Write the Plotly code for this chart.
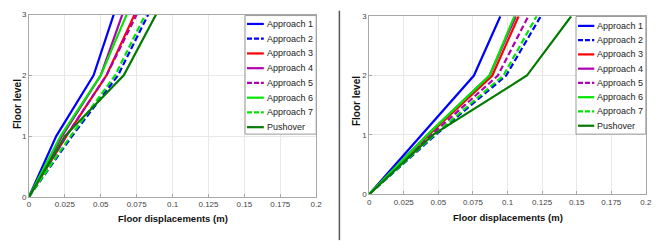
import plotly.graph_objects as go

# ---------------- data ----------------
floors = [0, 1, 2, 3]
series_names = ["Approach 1", "Approach 2", "Approach 3", "Approach 4",
                "Approach 5", "Approach 6", "Approach 7", "Pushover"]

# left panel: floor displacements (m) at floors 0..3
left_approach1 = [0, 0.019, 0.045, 0.059]
left_approach2 = [0, 0.030, 0.062, 0.083]
left_approach3 = [0, 0.026, 0.054, 0.0735]
left_approach4 = [0, 0.023, 0.050, 0.065]
left_approach5 = [0, 0.026, 0.054, 0.075]
left_approach6 = [0, 0.022, 0.050, 0.068]
left_approach7 = [0, 0.029, 0.060, 0.081]
left_pushover = [0, 0.025, 0.066, 0.0885]

# right panel
right_approach1 = [0, 0.038, 0.0757, 0.0948]
right_approach2 = [0, 0.048, 0.099, 0.124]
right_approach3 = [0, 0.043, 0.089, 0.108]
right_approach4 = [0, 0.042, 0.087, 0.106]
right_approach5 = [0, 0.045, 0.093, 0.115]
right_approach6 = [0, 0.042, 0.087, 0.105]
right_approach7 = [0, 0.047, 0.097, 0.121]
right_pushover = [0, 0.046, 0.114, 0.146]

x_tick_values = [0, 0.025, 0.05, 0.075, 0.1, 0.125, 0.15, 0.175, 0.2]
x_tick_labels = ["0", "0.025", "0.05", "0.075", "0.1", "0.125", "0.15", "0.175", "0.2"]
y_tick_values = [0, 1, 2, 3]
y_tick_labels = ["0", "1", "2", "3"]

x_title = "Floor displacements (m)"
y_title = "Floor level"

left_series = [left_approach1, left_approach2, left_approach3, left_approach4,
               left_approach5, left_approach6, left_approach7, left_pushover]
right_series = [right_approach1, right_approach2, right_approach3, right_approach4,
                right_approach5, right_approach6, right_approach7, right_pushover]

# ---------------- styles ----------------
colors = ["#0000FF", "#0000FF", "#FF0000", "#B000B0",
          "#B000B0", "#00E600", "#00E600", "#007A00"]
dashes = ["solid", "6px,3px", "solid", "solid",
          "6px,3px", "solid", "6px,3px", "solid"]
LW = 2.2
FONT = "Liberation Sans, Arial, sans-serif"

W, H = 665, 249


def px(x):
    return x / W


def py(y):
    return 1 - y / H


fig = go.Figure()
for i, name in enumerate(series_names):
    fig.add_trace(go.Scatter(x=left_series[i], y=floors, mode="lines", name=name,
                             line=dict(color=colors[i], width=LW, dash=dashes[i]),
                             showlegend=False, xaxis="x", yaxis="y"))
for i, name in enumerate(series_names):
    fig.add_trace(go.Scatter(x=right_series[i], y=floors, mode="lines", name=name,
                             line=dict(color=colors[i], width=LW, dash=dashes[i]),
                             showlegend=False, xaxis="x2", yaxis="y2"))

axis_common = dict(
    showgrid=True, gridcolor="#e8e8e8", gridwidth=1,
    showline=True, linecolor="#a8a8a8", linewidth=1, mirror=True,
    ticks="inside", ticklen=3, tickcolor="#a8a8a8",
    tickfont=dict(family=FONT, size=8, color="#444444"),
    zeroline=False, fixedrange=True,
)

left_box = dict(x0=27.3, x1=318.0, y0=11.0, y1=200.0)
right_box = dict(x0=371.7, x1=651.7, y0=12.7, y1=197.3)

fig.update_layout(
    width=W, height=H,
    margin=dict(l=0, r=0, t=0, b=0),
    paper_bgcolor="white", plot_bgcolor="white",
    xaxis=dict(domain=[px(left_box["x0"]), px(left_box["x1"])], range=[0, 0.2],
               tickvals=x_tick_values, ticktext=x_tick_labels, anchor="y", **axis_common),
    yaxis=dict(domain=[py(left_box["y1"]), py(left_box["y0"])], range=[0, 3],
               tickvals=y_tick_values, ticktext=y_tick_labels, anchor="x", **axis_common),
    xaxis2=dict(domain=[px(right_box["x0"]), px(right_box["x1"])], range=[0, 0.2],
                tickvals=x_tick_values, ticktext=x_tick_labels, anchor="y2", **axis_common),
    yaxis2=dict(domain=[py(right_box["y1"]), py(right_box["y0"])], range=[0, 3],
                tickvals=y_tick_values, ticktext=y_tick_labels, anchor="x2", **axis_common),
    showlegend=False,
)

shapes = []
annotations = []

# separator line between the two panels
shapes.append(dict(type="line", xref="paper", yref="paper",
                   x0=px(341.5), x1=px(341.5), y0=py(7), y1=py(245),
                   line=dict(color="#555555", width=1.5)))

# axis titles
for box, yt_x, xt_y, yt_y in [(left_box, 15, 223, 104), (right_box, 359, 222, 101)]:
    cx = (box["x0"] + box["x1"]) / 2
    annotations.append(dict(text="<b>" + x_title + "</b>", xref="paper", yref="paper",
                            x=px(cx), y=py(xt_y), showarrow=False,
                            xanchor="center", yanchor="middle",
                            font=dict(family=FONT, size=9.5, color="#111111")))
    annotations.append(dict(text="<b>" + y_title + "</b>", xref="paper", yref="paper",
                            x=px(yt_x), y=py(yt_y), showarrow=False, textangle=-90,
                            xanchor="center", yanchor="middle",
                            font=dict(family=FONT, size=10, color="#111111")))

# legends (drawn as boxes with line samples and labels)
legend_specs = [
    dict(x0=246, x1=318, y0=12, y1=135, s0=248, s1=265, tx=266, row0=20.7, step=15.3),
    dict(x0=581, x1=651.7, y0=13, y1=135, s0=583, s1=599.5, tx=600, row0=22.7, step=14.8),
]
for spec in legend_specs:
    shapes.append(dict(type="rect", xref="paper", yref="paper",
                       x0=px(spec["x0"]), x1=px(spec["x1"]),
                       y0=py(spec["y1"]), y1=py(spec["y0"]),
                       line=dict(color="#9a9a9a", width=1), fillcolor="white", layer="above"))
    for i, name in enumerate(series_names):
        yy = spec["row0"] + i * spec["step"]
        shapes.append(dict(type="line", xref="paper", yref="paper",
                           x0=px(spec["s0"]), x1=px(spec["s1"]), y0=py(yy), y1=py(yy),
                           line=dict(color=colors[i], width=LW,
                                     dash=("solid" if dashes[i] == "solid" else "5px,2px")),
                           layer="above"))
        annotations.append(dict(text=name, xref="paper", yref="paper",
                                x=px(spec["tx"]), y=py(yy), showarrow=False,
                                xanchor="left", yanchor="middle",
                                font=dict(family=FONT, size=9, color="#222222")))

fig.update_layout(shapes=shapes, annotations=annotations)

fig.write_html("out.html",
               config={"displayModeBar": False, "staticPlot": True},
               post_script="document.body.style.margin='0';document.body.style.overflow='hidden';")
